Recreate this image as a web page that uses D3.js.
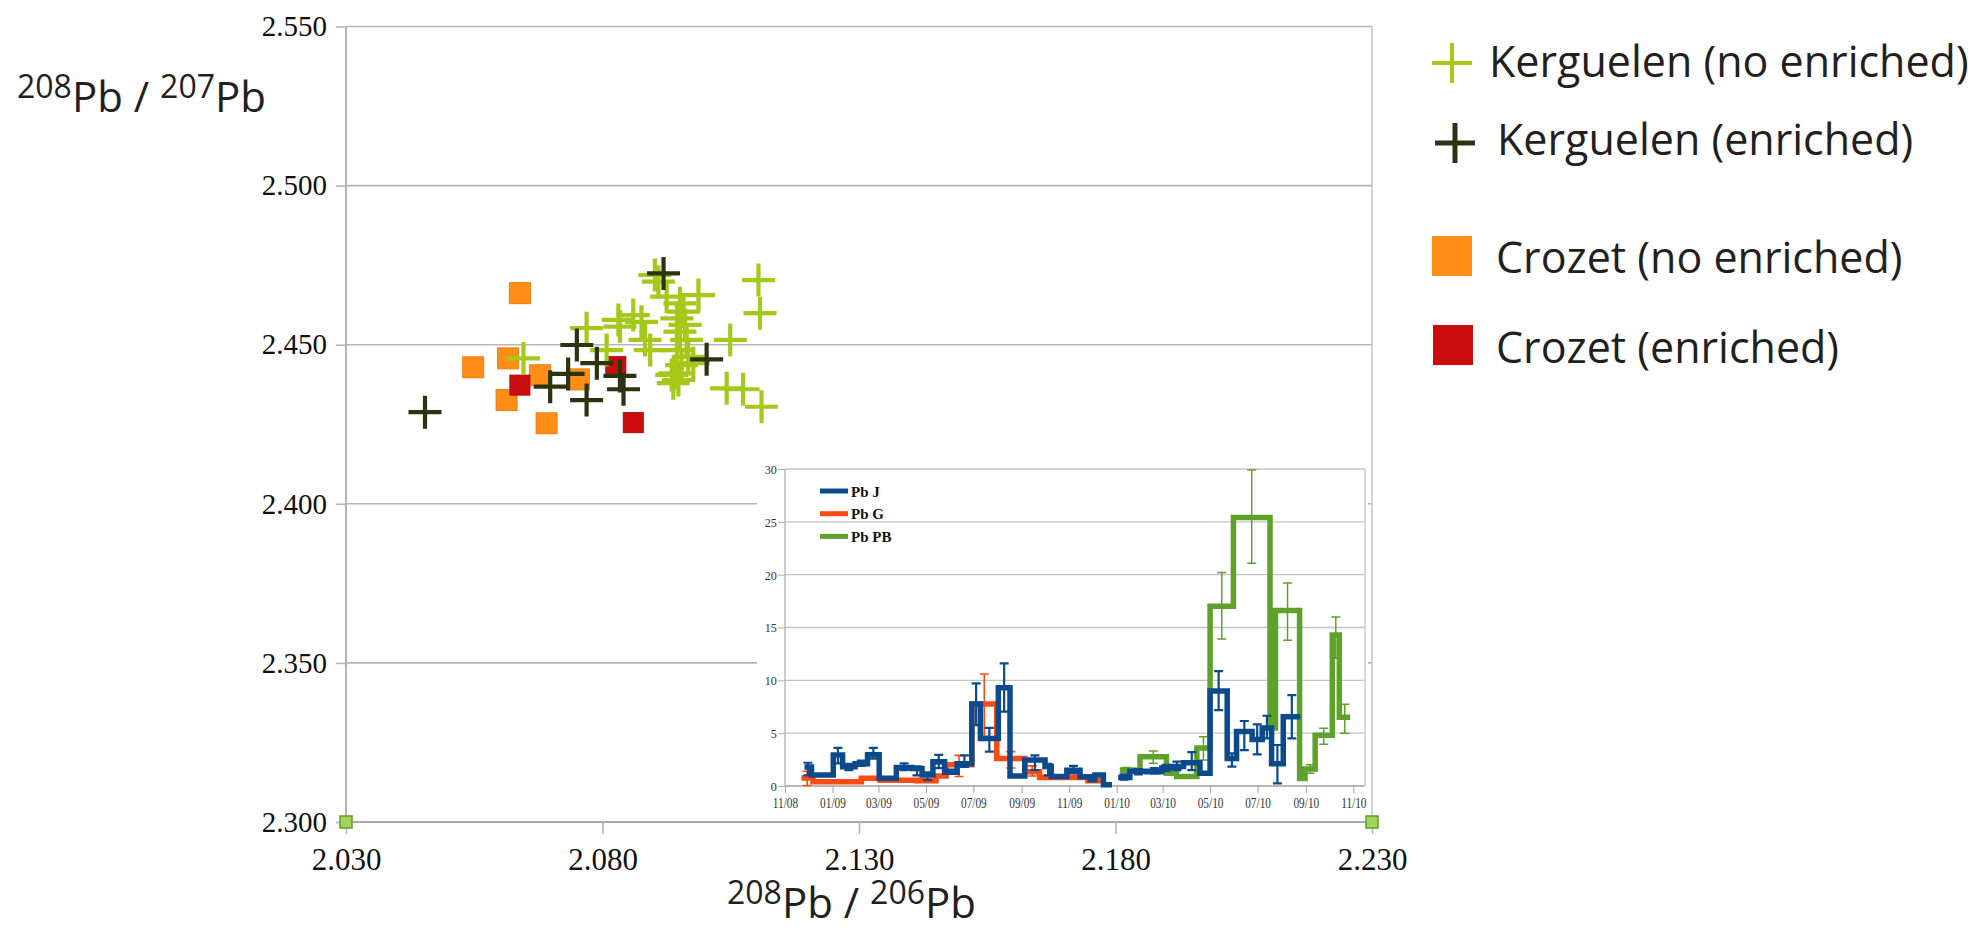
<!DOCTYPE html>
<html><head><meta charset="utf-8">
<script src="https://cdn.jsdelivr.net/npm/d3@7"></script>
<style>body{margin:0;background:#fff}</style>
</head><body>
<svg id="c" width="1988" height="932"></svg>
<script>
// ---------- main scatter data ----------
const xTicks = [2.030, 2.080, 2.130, 2.180, 2.230];
const yTicks = [2.300, 2.350, 2.400, 2.450, 2.500, 2.550];
const kerguelenNoEnriched = [
 [2.1104,2.4703],[2.1107,2.4599],[2.1049,2.4515],[2.1042,2.4363],[2.1074,2.4360],[2.1110,2.4305],
 [2.0987,2.4656],[2.0902,2.4719],[2.0909,2.4698],[2.0925,2.4651],[2.0951,2.4630],[2.0958,2.4604],
 [2.0945,2.4583],[2.0961,2.4562],[2.0951,2.4541],[2.0964,2.4515],[2.0945,2.4483],[2.0967,2.4462],
 [2.0954,2.4436],[2.0941,2.4410],[2.0948,2.4389],[2.0935,2.4405],[2.0977,2.4442],[2.0860,2.4593],
 [2.0876,2.4572],[2.0893,2.4483],[2.0808,2.4483],[2.0834,2.4557],[2.0883,2.4515],[2.0646,2.4457],
 [2.0769,2.4552],[2.0831,2.4578],[2.0938,2.4379]
];
const kerguelenEnriched = [
 [2.0454,2.4288],[2.0919,2.4724],[2.0750,2.4499],[2.0789,2.4442],[2.0733,2.4408],
 [2.0698,2.4368],[2.0769,2.4326],[2.0834,2.4402],[2.0841,2.4360],[2.1003,2.4454]
];
const crozetNoEnriched = [
 [2.0639,2.4662],[2.0548,2.4429],[2.0616,2.4457],[2.0613,2.4326],[2.0678,2.4404],[2.0691,2.4253],[2.0754,2.4391]
];
const crozetEnriched = [[2.0639,2.4373],[2.0826,2.4431],[2.0860,2.4255]];
const legendLabels = ["Kerguelen (no enriched)","Kerguelen (enriched)","Crozet (no enriched)","Crozet (enriched)"];

// ---------- inset data: [start, end, value, errLow, errHigh] ----------
const insetYTicks = [0,5,10,15,20,25,30];
const insetXTicks = ["2008-11-01","2009-01-01","2009-03-01","2009-05-01","2009-07-01","2009-09-01",
 "2009-11-01","2010-01-01","2010-03-01","2010-05-01","2010-07-01","2010-09-01","2010-11-01"];
const insetSeriesNames = ["Pb J","Pb G","Pb PB"];
const pbJ = [
 ["2008-11-26","2008-12-05",1.8,1.0,2.2],["2008-12-05","2009-01-02",1.05,null,null],
 ["2009-01-02","2009-01-14",2.93,2.15,3.6],["2009-01-14","2009-01-30",1.83,1.5,2.1],
 ["2009-01-30","2009-02-15",2.1,1.9,2.4],["2009-02-15","2009-03-02",2.96,2.6,3.6],
 ["2009-03-02","2009-03-24",0.74,null,null],["2009-03-24","2009-04-13",1.75,1.5,2.15],
 ["2009-04-13","2009-04-26",1.65,1.0,1.85],["2009-04-26","2009-05-10",1.04,0.55,1.3],
 ["2009-05-10","2009-05-25",2.3,1.7,2.95],["2009-05-25","2009-06-10",1.3,1.2,1.55],
 ["2009-06-10","2009-06-29",2.1,1.8,2.9],["2009-06-29","2009-07-10",7.76,5.77,9.71],
 ["2009-07-10","2009-08-02",4.5,3.25,5.5],["2009-08-02","2009-08-17",9.3,7.03,11.6],
 ["2009-08-17","2009-09-05",0.95,null,null],["2009-09-05","2009-10-01",2.45,1.5,2.9],
 ["2009-10-01","2009-10-09",1.85,1.0,2.1],["2009-10-09","2009-10-29",0.9,null,null],
 ["2009-10-29","2009-11-15",1.5,1.2,1.9],["2009-11-15","2009-11-28",0.88,null,null],
 ["2009-11-28","2009-12-04",0.6,null,null],["2009-12-04","2009-12-15",1.04,null,null],
 ["2009-12-15","2009-12-26",0.13,null,null],
 ["2010-01-03","2010-01-18",0.8,0.6,1.1],["2010-01-18","2010-02-09",1.4,1.1,1.6],
 ["2010-02-09","2010-02-28",1.35,1.2,1.7],["2010-02-28","2010-03-11",1.7,1.4,2.0],
 ["2010-03-11","2010-03-28",1.85,1.5,2.3],["2010-03-28","2010-04-18",2.2,1.5,3.2],
 ["2010-04-18","2010-05-01",1.2,null,null],["2010-05-01","2010-05-23",8.98,7.19,10.88],
 ["2010-05-23","2010-06-04",2.6,1.83,3.1],["2010-06-04","2010-06-24",5.15,3.4,6.15],
 ["2010-06-24","2010-07-07",4.4,3.0,5.84],["2010-07-07","2010-07-19",5.5,4.5,6.65],
 ["2010-07-19","2010-08-03",2.1,0.25,3.88],["2010-08-03","2010-08-25",6.56,4.5,8.6]
];
const pbG = [
 ["2008-11-22","2008-12-07",0.75,0.05,1.4],["2008-12-07","2009-02-07",0.4,null,null],
 ["2009-02-07","2009-03-03",0.73,null,null],["2009-03-03","2009-04-19",0.55,null,null],
 ["2009-04-19","2009-05-14",0.5,null,null],["2009-05-14","2009-05-27",0.95,null,null],
 ["2009-05-27","2009-06-29",2.0,0.9,2.9],["2009-06-29","2009-07-31",7.76,4.7,10.6],
 ["2009-07-31","2009-09-05",2.6,1.7,3.25],["2009-09-05","2009-09-24",1.35,0.95,1.9],
 ["2009-09-24","2009-11-25",0.8,null,null],["2009-11-25","2009-12-14",0.5,null,null]
];
const pbPB = [
 ["2010-01-05","2010-01-22",1.51,1.3,1.75],["2010-01-22","2010-01-31",1.5,null,null],
 ["2010-01-31","2010-03-06",2.76,2.15,3.31],["2010-03-06","2010-03-19",1.2,null,null],
 ["2010-03-19","2010-04-14",0.9,null,null],["2010-04-14","2010-05-01",3.6,2.46,4.67],
 ["2010-05-01","2010-05-31",17.0,13.9,20.2],["2010-05-31","2010-07-17",25.4,21.07,29.9],
 ["2010-07-17","2010-07-24",5.5,null,null],["2010-07-24","2010-08-24",16.6,13.8,19.2],
 ["2010-08-24","2010-08-31",0.7,null,null],["2010-08-31","2010-09-13",1.6,1.2,2.0],
 ["2010-09-13","2010-10-05",4.8,3.94,5.46],["2010-10-05","2010-10-14",14.3,12.1,16.0],
 ["2010-10-14","2010-10-28",6.5,5.0,7.73]
];

// ---------- drawing ----------
const svg = d3.select("#c");
const GRID = "#b5b5b5", TXT = "#231f20";
const x = d3.scaleLinear().domain([2.03, 2.23]).range([346, 1372]);
const y = d3.scaleLinear().domain([2.30, 2.55]).range([822, 26.5]);

// grid lines
svg.append("g").selectAll("line").data(yTicks).join("line")
  .attr("x1", x(2.03)).attr("x2", x(2.23)).attr("y1", d => y(d)).attr("y2", d => y(d))
  .attr("stroke", GRID).attr("stroke-width", 1.6);
// frame
svg.append("line").attr("x1", x(2.03)).attr("x2", x(2.03)).attr("y1", y(2.55)).attr("y2", y(2.30))
  .attr("stroke", GRID).attr("stroke-width", 2);
svg.append("line").attr("x1", x(2.23)).attr("x2", x(2.23)).attr("y1", y(2.55)).attr("y2", y(2.30))
  .attr("stroke", "#c8c8c8").attr("stroke-width", 1.6);
svg.append("line").attr("x1", x(2.03)).attr("x2", x(2.23)).attr("y1", y(2.30)).attr("y2", y(2.30))
  .attr("stroke", "#a8a8a8").attr("stroke-width", 2);

// y axis
const gy = svg.append("g").attr("transform", `translate(${x(2.03)},0)`)
  .call(d3.axisLeft(y).tickValues(yTicks).tickSize(10).tickPadding(9).tickFormat(d3.format(".3f")));
gy.select(".domain").remove();
gy.selectAll(".tick line").attr("stroke", GRID).attr("stroke-width", 1.6);
gy.selectAll("text").attr("font-family", "Liberation Serif").attr("font-size", 29).attr("fill", "#111");

// x axis
const gx = svg.append("g").attr("transform", `translate(0,${y(2.30)})`)
  .call(d3.axisBottom(x).tickValues(xTicks).tickSize(12).tickPadding(14).tickFormat(d3.format(".3f")));
gx.select(".domain").remove();
gx.selectAll(".tick line").attr("stroke", GRID).attr("stroke-width", 1.6);
gx.selectAll("text").attr("font-family", "Liberation Serif").attr("font-size", 31).attr("fill", "#111");

// handle squares at the axis ends
svg.append("g").selectAll("rect").data([xTicks[0], xTicks[xTicks.length-1]]).join("rect")
  .attr("x", d => x(d) - 6).attr("y", y(2.30) - 6).attr("width", 12).attr("height", 12)
  .attr("fill", "#a3d45a").attr("stroke", "#5f9e24").attr("stroke-width", 1.5);

// axis titles
function isoTitle(xp, yp, a, b) {
  const t = svg.append("text").attr("x", xp).attr("y", yp)
    .attr("font-family", "Open Sans").attr("font-size", 42).attr("fill", TXT);
  t.append("tspan").attr("font-size", 32).attr("dy", -14).text(a);
  t.append("tspan").attr("dy", 14).text("Pb / ");
  t.append("tspan").attr("font-size", 32).attr("dy", -14).text(b);
  t.append("tspan").attr("dy", 14).text("Pb");
}
isoTitle(17, 112, "208", "207");
isoTitle(727, 918, "208", "206");

// markers
const crossPath = (cx, cy, h) => `M${cx-h},${cy}H${cx+h}M${cx},${cy-h}V${cy+h}`;
const COL = {kne: "#a4c91b", ke: "#2b3410", cne: "#ff8e17", ce: "#cc0d0d"};
svg.append("g").selectAll("rect").data(crozetNoEnriched).join("rect")
  .attr("x", d => x(d[0]) - 10.5).attr("y", d => y(d[1]) - 10.5).attr("width", 21).attr("height", 21)
  .attr("fill", COL.cne).attr("stroke", "#f07e10").attr("stroke-width", 1);
svg.append("g").selectAll("rect").data(crozetEnriched).join("rect")
  .attr("x", d => x(d[0]) - 10).attr("y", d => y(d[1]) - 10).attr("width", 20).attr("height", 20)
  .attr("fill", COL.ce).attr("stroke", "#a80a0a").attr("stroke-width", 1);
svg.append("g").selectAll("path").data(kerguelenNoEnriched).join("path")
  .attr("d", d => crossPath(x(d[0]), y(d[1]), 16.5))
  .attr("stroke", COL.kne).attr("stroke-width", 4.2).attr("fill", "none");
svg.append("g").selectAll("path").data(kerguelenEnriched).join("path")
  .attr("d", d => crossPath(x(d[0]), y(d[1]), 16.5))
  .attr("stroke", COL.ke).attr("stroke-width", 4.2).attr("fill", "none");

// legend
const legendRows = [
  {label: legendLabels[0], type: "cross", color: COL.kne, mx: 1452, my: 63, tx: 1489, ty: 77},
  {label: legendLabels[1], type: "cross", color: COL.ke, mx: 1455, my: 143, tx: 1497, ty: 155},
  {label: legendLabels[2], type: "square", color: COL.cne, mx: 1452, my: 256, tx: 1496, ty: 273},
  {label: legendLabels[3], type: "square", color: COL.ce, mx: 1453, my: 345, tx: 1496, ty: 363}
];
const lg = svg.append("g").selectAll("g").data(legendRows).join("g");
lg.filter(d => d.type === "cross").append("path")
  .attr("d", d => crossPath(d.mx, d.my, 20)).attr("stroke", d => d.color).attr("stroke-width", d => d.color === COL.ke ? 5 : 4);
lg.filter(d => d.type === "square").append("rect")
  .attr("x", d => d.mx - 20).attr("y", d => d.my - 20).attr("width", 40).attr("height", 40).attr("fill", d => d.color);
lg.append("text").attr("x", d => d.tx).attr("y", d => d.ty)
  .attr("font-family", "Open Sans").attr("font-size", 43).attr("fill", TXT).text(d => d.label);

// ---------- inset ----------
const parse = d3.timeParse("%Y-%m-%d");
const ix = d3.scaleTime().domain([parse("2008-11-01"), parse("2010-11-16")]).range([785, 1365]);
const iy = d3.scaleLinear().domain([0, 30]).range([786, 469]);
const inset = svg.append("g");
inset.append("rect").attr("x", 757).attr("y", 455).attr("width", 611).attr("height", 360).attr("fill", "#fff");
inset.append("g").selectAll("line").data(insetYTicks).join("line")
  .attr("x1", ix.range()[0]).attr("x2", ix.range()[1]).attr("y1", d => iy(d)).attr("y2", d => iy(d))
  .attr("stroke", d => d === 0 ? "#a0a0a0" : "#c4c4c4").attr("stroke-width", 1.3);
inset.append("line").attr("x1", 785).attr("x2", 785).attr("y1", iy(30)).attr("y2", iy(0)).attr("stroke", "#b0b0b0").attr("stroke-width", 1.3);
inset.append("line").attr("x1", ix.range()[1]).attr("x2", ix.range()[1]).attr("y1", iy(30)).attr("y2", iy(0)).attr("stroke", "#c4c4c4").attr("stroke-width", 1.3);

const iyAxis = inset.append("g").attr("transform", "translate(785,0)")
  .call(d3.axisLeft(iy).tickValues(insetYTicks).tickSize(7).tickPadding(2));
iyAxis.select(".domain").remove();
iyAxis.selectAll(".tick line").attr("stroke", "#b0b0b0");
iyAxis.selectAll("text").attr("font-family", "Liberation Serif").attr("font-size", 13.5).attr("fill", "#333")
  .attr("transform", "scale(0.9,1)");

const ixAxis = inset.append("g").attr("transform", `translate(0,${iy(0)})`)
  .call(d3.axisBottom(ix).tickValues(insetXTicks.map(parse)).tickSize(7).tickPadding(5).tickFormat(d3.timeFormat("%m/%y")));
ixAxis.select(".domain").remove();
ixAxis.selectAll(".tick line").attr("stroke", "#a0a0a0");
ixAxis.selectAll("text").attr("font-family", "Liberation Serif").attr("font-size", 14.5).attr("fill", "#333")
  .attr("transform", "scale(0.78,1)");

const ICOL = {"Pb J": "#0d4a8c", "Pb G": "#fa4b14", "Pb PB": "#5fa22b"};
const line = d3.line().x(d => ix(d[0])).y(d => iy(d[1])).curve(d3.curveStepAfter);
function drawSeries(data, color, errW) {
  const rows = data.map(d => ({s: parse(d[0]), e: parse(d[1]), v: d[2], lo: d[3], hi: d[4]}));
  const runs = []; let cur = [];
  rows.forEach((r, i) => {
    if (i > 0 && +r.s !== +rows[i-1].e) { runs.push(cur); cur = []; }
    cur.push(r);
  });
  runs.push(cur);
  const g = inset.append("g");
  runs.forEach(run => {
    const pts = run.map(r => [r.s, r.v]); pts.push([run[run.length-1].e, run[run.length-1].v]);
    g.append("path").attr("d", line(pts)).attr("fill", "none").attr("stroke", color)
      .attr("stroke-width", 5.5).attr("stroke-linejoin", "miter");
  });
  const eb = rows.filter(r => r.lo !== null).map(r => ({m: new Date((+r.s + +r.e) / 2), lo: r.lo, hi: r.hi}));
  g.append("g").selectAll("path").data(eb).join("path")
    .attr("d", d => { const cx = ix(d.m), a = iy(d.lo), b = iy(d.hi);
      return `M${cx},${a}V${b}M${cx-4.5},${a}H${cx+4.5}M${cx-4.5},${b}H${cx+4.5}`; })
    .attr("stroke", color).attr("stroke-width", errW).attr("fill", "none");
}
drawSeries(pbG, ICOL["Pb G"], 1.6);
drawSeries(pbPB, ICOL["Pb PB"], 1.5);
drawSeries(pbJ, ICOL["Pb J"], 2.2);

// inset legend
const il = inset.append("g").selectAll("g").data(insetSeriesNames).join("g")
  .attr("transform", (d, i) => `translate(0,${491 + i * 22.7})`);
il.append("line").attr("x1", 820).attr("x2", 848).attr("stroke", d => ICOL[d]).attr("stroke-width", 5);
il.append("text").attr("x", 851).attr("y", 5.5).attr("font-family", "Liberation Serif").attr("font-weight", "bold")
  .attr("font-size", 15).attr("fill", "#111").text(d => d);
</script>
</body></html>
